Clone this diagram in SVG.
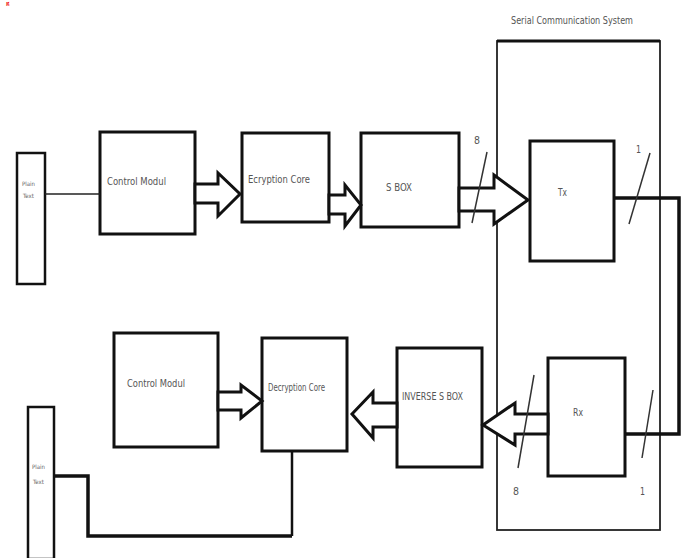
<svg xmlns="http://www.w3.org/2000/svg" width="688" height="558" viewBox="0 0 688 558">
<style>
.box{fill:#fff;stroke:#111;stroke-width:3}
.thin{fill:none;stroke:#222;stroke-width:1.5}
.fat{fill:#fff;stroke:#111;stroke-width:3;stroke-linejoin:miter}
.wire{fill:none;stroke:#111;stroke-width:3.5}
.slash{fill:none;stroke:#333;stroke-width:1.5}
.t{font-family:"DejaVu Sans Condensed","Liberation Sans",sans-serif;font-size:10px;fill:#555}
.s{font-family:"DejaVu Sans Condensed","Liberation Sans",sans-serif;font-size:6px;fill:#666}
</style>
<rect width="688" height="558" fill="#fff"/>
<text x="6" y="5" font-family="Liberation Serif,serif" font-weight="bold" font-size="7" fill="#e00">g</text>

<g id="serial">
<rect x="497" y="41" width="163" height="489" fill="none" stroke="#222" stroke-width="1.8"/>
<line x1="497" y1="41" x2="660" y2="41" stroke="#111" stroke-width="3"/>
<text class="t" x="511" y="24" textLength="122" lengthAdjust="spacingAndGlyphs">Serial Communication System</text>
</g>

<g id="plain1">
<rect class="box" x="17" y="153" width="28" height="131" style="stroke-width:2.5"/>
<text class="s" x="22" y="186">Plain</text>
<text class="s" x="23" y="198">Text</text>
</g>
<g id="control1">
<rect class="box" x="100" y="132" width="95" height="102"/>
<text class="t" x="107" y="185" textLength="59" lengthAdjust="spacingAndGlyphs">Control Modul</text>
</g>
<g id="enc">
<rect class="box" x="242" y="133" width="87" height="89"/>
<text class="t" x="248" y="183" textLength="62" lengthAdjust="spacingAndGlyphs">Ecryption Core</text>
</g>
<g id="sbox">
<rect class="box" x="361" y="133" width="98" height="94"/>
<text class="t" x="386" y="191" textLength="26" lengthAdjust="spacingAndGlyphs">S BOX</text>
</g>
<g id="tx">
<rect class="box" x="530" y="141" width="84" height="120"/>
<text class="t" x="558" y="196" textLength="9" lengthAdjust="spacingAndGlyphs">Tx</text>
</g>
<g id="rx">
<rect class="box" x="548" y="358" width="77" height="118"/>
<text class="t" x="573" y="416" textLength="10" lengthAdjust="spacingAndGlyphs">Rx</text>
</g>
<g id="invsbox">
<rect class="box" x="397" y="348" width="85" height="119"/>
<text class="t" x="402" y="400" textLength="61" lengthAdjust="spacingAndGlyphs">INVERSE S BOX</text>
</g>
<g id="dec">
<rect class="box" x="262" y="338" width="85" height="113"/>
<text class="t" x="268" y="391" textLength="57" lengthAdjust="spacingAndGlyphs">Decryption Core</text>
</g>
<g id="control2">
<rect class="box" x="114" y="333" width="104" height="114"/>
<text class="t" x="127" y="387" textLength="58" lengthAdjust="spacingAndGlyphs">Control Modul</text>
</g>
<g id="plain2">
<rect class="box" x="28" y="407" width="26" height="152" style="stroke-width:2.5"/>
<text class="s" x="32" y="469">Plain</text>
<text class="s" x="33" y="484">Text</text>
</g>

<g id="connectors">
<line class="thin" x1="45" y1="194" x2="100" y2="194"/>
<polygon class="fat" points="195,184 218,184 218,173 240,194 218,216 218,203 195,203"/>
<polygon class="fat" points="329,195 345,195 345,185 361,205 345,226 345,214 329,214"/>
<polygon class="fat" points="459,188 494,188 494,175 528,200 494,224 494,211 459,211"/>
<polyline class="wire" points="614,198 679,198 679,434 625,434"/>
<polygon class="fat" points="548,414 515,414 515,403 483,425 515,445 515,434 548,434"/>
<polygon class="fat" points="397,403 373,403 373,392 352,414 373,438 373,427 397,427"/>
<polygon class="fat" points="218,392 241,392 241,385 262,401 241,418 241,410 218,410"/>
<line x1="292" y1="451" x2="292" y2="536" stroke="#111" stroke-width="2.5"/>
<polyline class="wire" points="292,536 88,536 88,476 54,476"/>

<line class="slash" x1="472" y1="223" x2="487" y2="152"/>
<text class="t" x="474" y="144" textLength="6" lengthAdjust="spacingAndGlyphs">8</text>
<line class="slash" x1="629" y1="224" x2="650" y2="153"/>
<text class="t" x="636" y="153" textLength="5" lengthAdjust="spacingAndGlyphs">1</text>
<line class="slash" x1="518" y1="468" x2="534" y2="375"/>
<text class="t" x="513" y="495" textLength="6" lengthAdjust="spacingAndGlyphs">8</text>
<line class="slash" x1="642" y1="458" x2="653" y2="390"/>
<text class="t" x="640" y="495" textLength="5" lengthAdjust="spacingAndGlyphs">1</text>
</g>
</svg>
